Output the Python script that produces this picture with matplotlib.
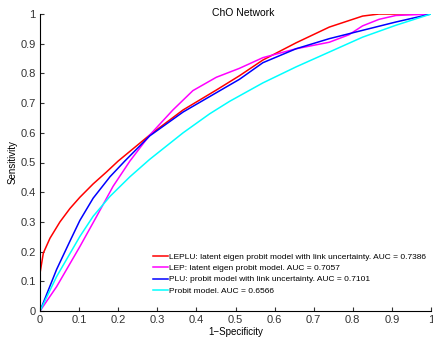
import matplotlib
matplotlib.use("Agg")
import matplotlib.pyplot as plt

plt.rcParams['font.family'] = ['Liberation Sans', 'DejaVu Sans']

# ROC curves (1-specificity, sensitivity)
leplu_x = [0, 0, 0.0085, 0.0255, 0.051, 0.0765, 0.102, 0.136, 0.17, 0.2, 0.281, 0.366, 0.451, 0.51, 0.57, 0.655, 0.74, 0.825, 0.867, 1.0]
leplu_y = [0, 0.127, 0.195, 0.245, 0.3, 0.345, 0.383, 0.428, 0.468, 0.505, 0.593, 0.677, 0.744, 0.792, 0.845, 0.903, 0.956, 0.993, 1.0, 1.0]

lep_x = [0, 0.0425, 0.102, 0.145, 0.187, 0.23, 0.281, 0.34, 0.391, 0.451, 0.51, 0.57, 0.655, 0.74, 0.79, 0.825, 0.867, 0.91, 1.0]
lep_y = [0, 0.082, 0.217, 0.319, 0.42, 0.505, 0.593, 0.677, 0.742, 0.787, 0.817, 0.853, 0.883, 0.905, 0.93, 0.96, 0.982, 0.995, 1.0]

plu_x = [0, 0.0425, 0.0765, 0.102, 0.136, 0.179, 0.217, 0.281, 0.366, 0.451, 0.51, 0.57, 0.655, 0.74, 0.825, 0.91, 1.0]
plu_y = [0, 0.14, 0.235, 0.305, 0.38, 0.452, 0.505, 0.59, 0.67, 0.735, 0.78, 0.836, 0.883, 0.917, 0.945, 0.973, 1.0]

probit_x = [0, 0.0425, 0.102, 0.136, 0.179, 0.23, 0.28, 0.366, 0.434, 0.485, 0.57, 0.655, 0.74, 0.825, 0.91, 1.0]
probit_y = [0, 0.116, 0.251, 0.319, 0.386, 0.452, 0.51, 0.6, 0.664, 0.706, 0.768, 0.822, 0.872, 0.922, 0.962, 1.0]

labels = ['LEPLU: latent eigen probit model with link uncertainty. AUC = 0.7386',
          'LEP: latent eigen probit model. AUC = 0.7057',
          'PLU: probit model with link uncertainty. AUC = 0.7101',
          'Probit model. AUC = 0.6566']
ticks = [0, 0.1, 0.2, 0.3, 0.4, 0.5, 0.6, 0.7, 0.8, 0.9, 1]
tick_labels = ['0', '0.1', '0.2', '0.3', '0.4', '0.5', '0.6', '0.7', '0.8', '0.9', '1']

fig = plt.figure(figsize=(4.33, 3.39), dpi=100)
ax = fig.add_axes([40/433, 28/339, 391/433, 297/339])

ax.plot(leplu_x, leplu_y, color='#ff0000', lw=1.1, label=labels[0])
ax.plot(lep_x, lep_y, color='#ff00ff', lw=1.1, label=labels[1])
ax.plot(plu_x, plu_y, color='#0000ff', lw=1.1, label=labels[2])
ax.plot(probit_x, probit_y, color='#00ffff', lw=1.1, label=labels[3])

ax.set_xlim(0, 1)
ax.set_ylim(0, 1)
ax.set_xticks(ticks)
ax.set_xticklabels(tick_labels)
ax.set_yticks(ticks)
ax.set_yticklabels(tick_labels)
ax.tick_params(direction='in', length=3, width=0.8, labelsize=8, colors='#333333', pad=3)
ax.spines['top'].set_visible(False)
ax.spines['right'].set_visible(False)
for s in ['left', 'bottom']:
    ax.spines[s].set_linewidth(0.8)

ax.set_xlabel('1\u2212Specificity', fontsize=7, labelpad=1)
ax.set_ylabel('Sensitivity', fontsize=7, labelpad=2)
fig.text(243/433, 1 - 13/339, 'ChO Network', ha='center', va='center', fontsize=7.5)

ax.legend(loc='lower left', bbox_to_anchor=(0.275, 0.035), frameon=False, fontsize=6,
          handlelength=1.8, handletextpad=0.1, labelspacing=0.42, borderpad=0.2)

fig.savefig('out.png', dpi=100)
